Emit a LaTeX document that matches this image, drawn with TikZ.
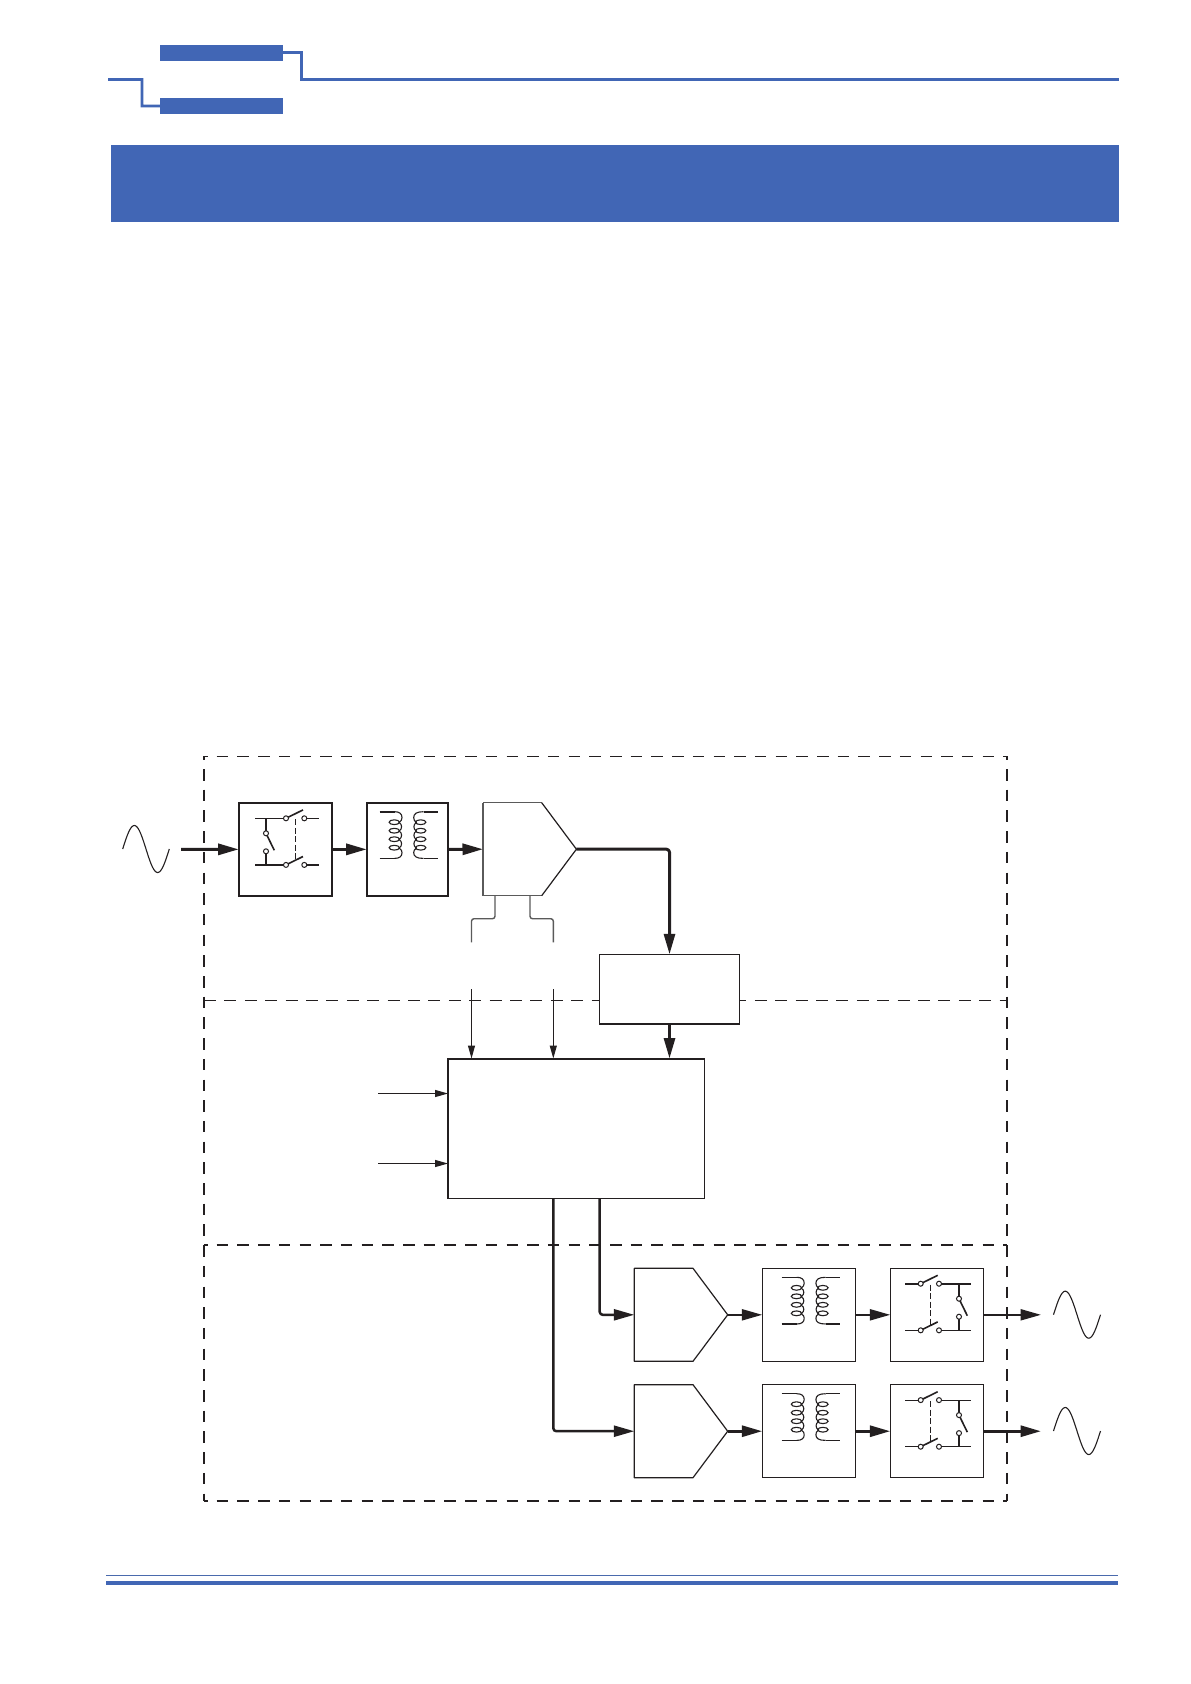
\documentclass[tikz,border=0pt]{standalone}
\usetikzlibrary{arrows.meta}
\definecolor{hblue}{HTML}{4166B5}
\definecolor{ink}{HTML}{231F20}
\definecolor{soft}{HTML}{5A5A5A}
\tikzset{
  x=1pt,y=-1pt,
  every path/.append style={ink},
  hfill/.style={fill=hblue,draw=none,inner sep=0pt,outer sep=0pt,anchor=north west},
  hline/.style={draw=hblue,line width=2.8pt},
  blockbox/.style={draw=ink,fill=white,inner sep=0pt,outer sep=0pt,anchor=north west,line width=1.1pt},
  heavybox/.style={blockbox,line width=2pt},
  ghost/.style={inner sep=0pt,outer sep=0pt,anchor=north west,minimum width=93.4pt,minimum height=93pt},
  bigarrow/.style={draw=ink,line width=#1,-{Triangle[length=20.5pt,width=11pt,fill=ink]},line join=round},
  bigarrow/.default=3pt,
  smallarrow/.style={draw=ink,line width=1.1pt,-{Triangle[length=13pt,width=7pt,fill=ink]}},
  zoneheavy/.style={draw=ink,line width=1.9pt,dash pattern=on 11.5pt off 9.2pt,dash phase=8pt},
  zonelight/.style={draw=ink,line width=1pt,dash pattern=on 12pt off 8.4pt},
  contact/.style={draw=ink,fill=white,line width=1pt},
  stub/.style={draw=soft,line width=1.4pt,rounded corners=2.5pt},
}
% sine: x left, y centre, width
\newcommand\sinewave[3]{\draw[line width=1.1pt,line join=round] plot[domain=0:360,samples=60,smooth] ({#1+\x/360*#3},{#2-23.5*sin(\x)});}
% transformer: gap centre x, y of top winding, top width, bottom width
\newcommand\windings[4]{%
  \begin{scope}[shift={(#1,#2)}]
    \draw[line width=#3] (-28,0) -- (-13,0);
    \draw[line width=#4] (-28,46.7) -- (-13,46.7);
    \draw[line width=#3] (16,0) -- (30,0);
    \draw[line width=#4] (16,46.7) -- (30,46.7);
    \draw[line width=1.1pt,line join=round] (-13,0) .. controls (-8,0) and (-5.5,2) .. (-5.5,6)
      .. controls (-5.5,8) and (-6.5,9.5) .. (-8.5,10.8)
      .. controls (-5,12.5) and (-5,17.5) .. (-8.5,19.3)
      .. controls (-5,21) and (-5,26) .. (-8.5,27.8)
      .. controls (-5,29.5) and (-5,34.5) .. (-8.5,36.3)
      .. controls (-6,38) and (-5.5,39) .. (-5.5,41)
      .. controls (-5.5,44.7) and (-8,46.7) .. (-13,46.7);
    \draw[line width=1.1pt,line join=round] (16,0) .. controls (9,0) and (6.2,2) .. (6.2,6)
      .. controls (6.2,8) and (7,9.5) .. (9,10.8)
      .. controls (5.5,12.5) and (5.5,17.5) .. (9,19.3)
      .. controls (5.5,21) and (5.5,26) .. (9,27.8)
      .. controls (5.5,29.5) and (5.5,34.5) .. (9,36.3)
      .. controls (6.7,38) and (6.2,39) .. (6.2,41)
      .. controls (6.2,44.7) and (9,46.7) .. (16,46.7);
    \foreach \yy in {10.5,19,27.5,36}{
      \draw[line width=1.1pt] (-13.2,\yy) ellipse (5.2 and 2.4);
      \draw[line width=1.1pt] (13.2,\yy) ellipse (5.2 and 2.4);
    }
  \end{scope}}
% switch: xL xA xB xR xV xD ytop wtop wbot
\newcommand\switchset[9]{%
  \draw[line width=#8] (#1,#7) -- (#2,#7) (#3,#7) -- (#4,#7);
  \draw[line width=#9] (#1,#7+46.6) -- (#2,#7+46.6) (#3,#7+46.6) -- (#4,#7+46.6);
  \draw[line width=1.2pt,dash pattern=on 6pt off 2.5pt] (#6,#7+1) -- (#6,#7+41);
  \draw[line width=1.6pt] (#2,#7) -- (#2+17,#7-8.4) (#2,#7+46.6) -- (#2+17,#7+38.2);
  \draw[line width=1.6pt] (#5,#7+15) -- (#5+8.3,#7+32);
  \filldraw[contact] (#2,#7) circle (2.5) (#3,#7) circle (2.5) (#2,#7+46.6) circle (2.5) (#3,#7+46.6) circle (2.5);
}
% pole: x, ytop, upper width, lower width
\newcommand\switchpole[4]{%
  \draw[line width=#3] (#1,#2) -- (#1,#2+15);
  \draw[line width=#4] (#1,#2+33) -- (#1,#2+46.6);
  \filldraw[contact] (#1,#2+15) circle (2.5) (#1,#2+33) circle (2.5);
}
\begin{document}
\begin{tikzpicture}
\useasboundingbox (0,0) rectangle (1191,1684);
\fill[white] (0,0) rectangle (1191,1684);

% header
\node[hfill,minimum width=123pt,minimum height=16pt] (hdrA) at (160,45) {};
\node[hfill,minimum width=123pt,minimum height=16pt] (hdrB) at (160,98) {};
\coordinate (hdrL) at (108,79.5);
\coordinate (hdrR) at (1119,79.5);
\draw[hline] ([yshift=.8pt]hdrA.east) -| (301.3,79.5) -- (hdrR);
\draw[hline] (hdrL) -| (142,105.9) -- (hdrB.west);
\node[hfill,minimum width=1008pt,minimum height=76.5pt] (banner) at (111,145) {};

% footer
\node[hfill,minimum width=1012pt,minimum height=4.2pt] (footbar) at (106,1581) {};
\coordinate (footL) at (106,1575.4);
\coordinate (footR) at (1118,1575.4);
\draw[draw=hblue!85!gray,line width=1.1pt] (footL) -- (footR);

% zones
\coordinate (zTL) at (204,756.3);
\coordinate (zTR) at (1007,756.3);
\coordinate (zBL) at (204,1500.7);
\coordinate (zBR) at (1007,1500.7);
\draw[zoneheavy,line width=1.4pt] (zTL) -- (zTR);
\draw[zoneheavy] (zTL) -- (zBL);
\draw[zoneheavy] (zTR) -- (zBR);
\draw[zoneheavy] (zBL) -- (zBR);
\coordinate (z1L) at (204,1000);
\coordinate (z1R) at (1007,1000);
\coordinate (z2L) at (204,1245);
\coordinate (z2R) at (1007,1245);
\draw[zonelight] (z1L) -- (z1R);
\draw[zoneheavy] (z2L) -- (z2R);

% top row
\node[heavybox,minimum width=93.3pt,minimum height=93.3pt] (sw1) at (238.7,802.7) {};
\node[heavybox,minimum width=81.6pt,minimum height=93.3pt] (tr1) at (366.7,802.7) {};
\node[ghost] (adc1) at (483,802.7) {};
\draw[line width=1.4pt,draw=soft] (adc1.north west) -- (541.7,802.7);
\draw[line width=1.4pt,draw=soft] (adc1.north west) -- (adc1.south west) -- (541.7,895.7);
\draw[line width=1.2pt,line join=round] (541.7,802.7) -- (adc1.east) -- (541.7,895.7);

% rectifier-side box and controller
\node[blockbox,minimum width=140.4pt,minimum height=69.7pt] (link) at (599.3,954.3) {};
\draw[line width=2pt] (link.south west) -- (link.south east);
\node[blockbox,minimum width=256.3pt,minimum height=140pt] (ctrl) at (448,1058.5) {};
\draw[line width=2pt] (ctrl.north west) -- (ctrl.north east);

% output rows
\foreach \nm/\yy in {U/1268.3,L/1384.7}{
  \node[ghost] (adc\nm) at (634.3,\yy) {};
  \draw[line width=1.2pt,line join=round] (adc\nm.north west) -- (693,\yy) -- (adc\nm.east) -- (693,\yy+93) -- (adc\nm.south west) -- cycle;
  \node[blockbox,minimum width=93pt,minimum height=93pt] (tr\nm) at (762.3,\yy) {};
  \node[blockbox,minimum width=93pt,minimum height=93pt] (sw\nm) at (890.3,\yy) {};
}

% symbols
\switchset{255}{286}{304.3}{319}{266}{295.7}{818.3}{1.1pt}{2pt}
\switchpole{266}{818.3}{1.1pt}{1.1pt}
\windings{407.5}{811.7}{1.8pt}{1.1pt}
\windings{809.7}{1277.3}{1.1pt}{2pt}
\windings{809.7}{1393.7}{1.1pt}{1.1pt}
\switchset{905}{920.7}{939}{970.7}{959}{930.3}{1283.7}{2pt}{1.1pt}
\switchpole{959}{1283.7}{2pt}{2pt}
\switchset{905}{920.7}{939}{970.7}{959}{930.3}{1400.1}{1.1pt}{1.1pt}
\switchpole{959}{1400.1}{2pt}{2pt}

% sines
\sinewave{122.7}{849}{46.6}
\sinewave{1053.5}{1314.7}{47}
\sinewave{1053.5}{1431}{47}

% top connectors
\coordinate (inA) at (181,849.35);
\draw[bigarrow] (inA) -- (sw1.west);
\draw[bigarrow] (sw1.east) -- (tr1.west);
\draw[bigarrow] (tr1.east) -- (adc1.west);
\draw[bigarrow,rounded corners=3pt] (adc1.east) -| (link.north);
\draw[bigarrow] (link.south) -- (link.south |- ctrl.north);

% stubs and broken feeds
\coordinate (stubA) at (495,895.7);
\coordinate (stubB) at (530,895.7);
\coordinate (stubAend) at (471.5,942.3);
\coordinate (stubBend) at (553.3,942.3);
\coordinate (feedA) at (471.5,989);
\coordinate (feedB) at (553.3,989);
\draw[stub] (stubA) |- (471.5,918.7) -- (stubAend);
\draw[stub] (stubB) |- (553.3,918.7) -- (stubBend);
\draw[smallarrow] (feedA) -- (feedA |- ctrl.north);
\draw[smallarrow] (feedB) -- (feedB |- ctrl.north);

% controller inputs
\coordinate (inB) at (378,1093.5);
\coordinate (inC) at (378,1163.5);
\draw[smallarrow] (inB) -- (inB -| ctrl.west);
\draw[smallarrow] (inC) -- (inC -| ctrl.west);

% controller outputs
\coordinate (outU) at (599.7,1198.5);
\coordinate (outL) at (553.3,1198.5);
\draw[bigarrow=2.5pt,rounded corners=3pt] (outU) |- (adcU.west);
\draw[bigarrow=2.5pt,rounded corners=3pt] (outL) |- (adcL.west);

% output connectors
\coordinate (endU) at (1041,1314.8);
\coordinate (endL) at (1041,1431.2);
\draw[bigarrow=2.2pt] (adcU.east) -- (trU.west);
\draw[bigarrow=2.2pt] (trU.east) -- (swU.west);
\draw[bigarrow=2.2pt] (swU.east) -- (swU.east -| endU);
\draw[bigarrow=3pt] (adcL.east) -- (trL.west);
\draw[bigarrow=3pt] (trL.east) -- (swL.west);
\draw[bigarrow=3pt] (swL.east) -- (swL.east -| endL);
\end{tikzpicture}
\end{document}
